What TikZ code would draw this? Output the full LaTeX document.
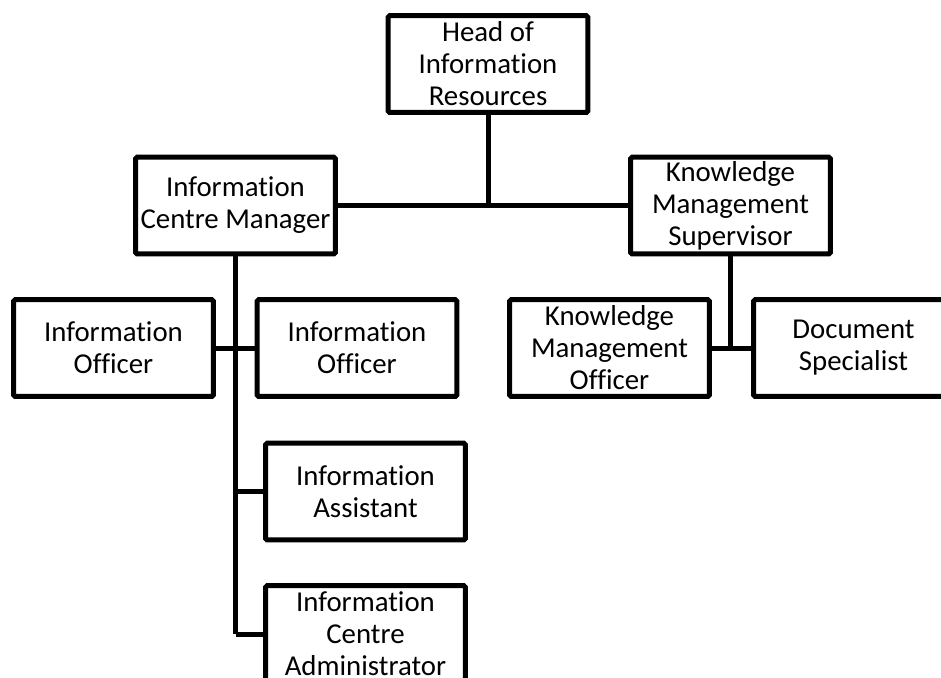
\documentclass[tikz,border=0pt]{standalone}
\usepackage{fontspec}
\setmainfont{Carlito}[Ligatures=NoCommon]
\usepackage{tikz}

\begin{document}
\begin{tikzpicture}[x=0.02cm, y=-0.02cm,
   role/.style={
      draw,
      line width = .1cm,
      rounded corners = 1pt,
      minimum width = 4cm,
      minimum height = 1.94cm,
      inner sep = 1pt,
      align = center,
      font = \fontsize{16.4}{18.2}\selectfont
   },
   link/.style={line width = .1cm}]
   \useasboundingbox (0,0) rectangle (941,677);
   \clip (0,0) rectangle (941,677);

   \node[role] (head) at (488,64) {Head of\\Information\\Resources};
   \node[role] (icm) at (235.5,205.5) {Information\\Centre Manager};
   \node[role] (kms) at (730.5,205.5) {Knowledge\\Management\\Supervisor};

   \node[role] (io1) at (113.5,348) {Information\\Officer};
   \node[role] (io2) at (357,348) {Information\\Officer};
   \node[role] (ia) at (365.5,491.5) {Information\\Assistant};
   \node[role] (ica) at (365.5,634) {Information\\Centre\\Administrator};

   \node[role] (kmo) at (609.5,348) {Knowledge\\Management\\Officer};
   \node[role] (ds) at (853.5,348) {Document\\Specialist};

   \draw[link] (head.south) -- (head.south |- icm.east);
   \draw[link] (icm.east) -- (kms.west);

   \draw[link] (icm.south) -- (icm.south |- ica.west);
   \draw[link] (io1.east) -- (io2.west);
   \draw[link] (icm.south |- ia.west) -- (ia.west);
   \draw[link] (icm.south |- ica.west) -- (ica.west);

   \draw[link] (kms.south) -- (kms.south |- kmo.east);
   \draw[link] (kmo.east) -- (ds.west);
\end{tikzpicture}
\end{document}
